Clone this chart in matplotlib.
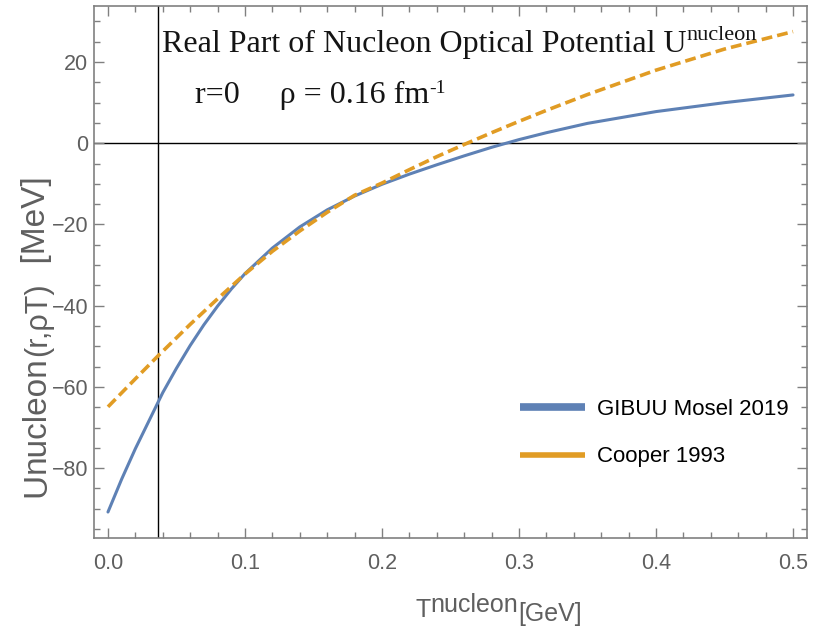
import matplotlib
matplotlib.use("Agg")
import matplotlib.pyplot as plt
from matplotlib.lines import Line2D
from matplotlib.ticker import MultipleLocator
from matplotlib.transforms import IdentityTransform

# values
T_gibuu = [0.0, 0.01, 0.02, 0.03, 0.04, 0.05, 0.06, 0.07, 0.08, 0.09, 0.10,
           0.12, 0.14, 0.16, 0.18, 0.20, 0.22, 0.24, 0.26, 0.28, 0.30, 0.32,
           0.35, 0.40, 0.45, 0.50]
U_gibuu = [-90.8, -82.7, -75.2, -68.3, -61.4, -55.4, -49.8, -44.7, -40.1,
           -35.9, -32.1, -25.8, -20.6, -16.4, -13.0, -10.1, -7.6, -5.3, -3.1,
           -1.0, 0.9, 2.6, 4.9, 7.8, 10.0, 11.9]

T_cooper = [0.0, 0.02, 0.0367, 0.06, 0.08, 0.10, 0.12, 0.14, 0.16, 0.18,
            0.20, 0.22, 0.24, 0.26, 0.28, 0.30, 0.32, 0.35, 0.40, 0.45, 0.50]
U_cooper = [-64.9, -58.0, -52.3, -44.6, -38.3, -32.2, -26.6, -21.6, -17.0,
            -12.8, -9.8, -6.5, -3.3, -0.3, 2.6, 5.4, 8.1, 12.0, 18.0, 23.2, 27.5]

t_fermi = 0.0367
x_ticks = [0.0, 0.1, 0.2, 0.3, 0.4, 0.5]
y_ticks = [-80, -60, -40, -20, 0, 20]
series_labels = ["GIBUU Mosel 2019", "Cooper 1993"]

blue = "#5E81B5"
orange = "#E19C24"
gray = "#5f5f5f"
sans = ["Liberation Sans", "DejaVu Sans"]
serif = ["Liberation Serif", "DejaVu Serif"]

fig = plt.figure(figsize=(8.23, 6.29), dpi=100)
ax = fig.add_axes([94 / 823, 1 - 538 / 629, 713 / 823, 532 / 629])

ax.plot(T_gibuu, U_gibuu, color=blue, lw=2.2, solid_capstyle="round")
ax.plot(T_cooper, U_cooper, color=orange, lw=2.6, dashes=(3.0, 1.4))
ax.axhline(0, color="black", lw=1.0, zorder=1)
ax.axvline(t_fermi, color="black", lw=1.0, zorder=1)

ax.set_xlim(-0.0102, 0.5102)
ax.set_ylim(-97.2, 33.8)
ax.set_xticks(x_ticks)
ax.set_yticks(y_ticks)
ax.set_xticklabels([f"{v:.1f}" for v in x_ticks])
ax.xaxis.set_minor_locator(MultipleLocator(0.02))
ax.yaxis.set_minor_locator(MultipleLocator(5))
ax.tick_params(which="both", direction="in", top=True, right=True,
               color="#808080", width=1.0)
ax.tick_params(which="major", length=7)
ax.tick_params(which="minor", length=4)
ax.tick_params(axis="x", pad=10.5)
ax.tick_params(axis="y", pad=4)
for lab in ax.get_xticklabels() + ax.get_yticklabels():
    lab.set_family(sans)
    lab.set_fontsize(15.5)
    lab.set_color(gray)
for sp in ax.spines.values():
    sp.set_color("#808080")
    sp.set_linewidth(1.2)

handles = [Line2D([], [], color=blue, lw=5.5, solid_capstyle="butt"),
           Line2D([], [], color=orange, lw=4, solid_capstyle="butt")]
ax.legend(handles, series_labels, loc="upper left", bbox_to_anchor=(0.598, 0.262),
          frameon=False, borderpad=0, borderaxespad=0, handlelength=2.9,
          handletextpad=0.55, labelspacing=1.2,
          prop={"family": sans, "size": 16})

renderer = fig.canvas.get_renderer()


def put_pieces(x, y, pieces, rotation=0, **kw):
    # write text pieces one after another, each with its own size and raise
    for text, size, rise in pieces:
        if rotation == 0:
            t = fig.text(x, y + rise, text, fontsize=size, ha="left", va="baseline",
                         transform=IdentityTransform(), **kw)
            x += t.get_window_extent(renderer).width
        else:
            t = fig.text(x - rise, y, text, fontsize=size, ha="left", va="baseline",
                         rotation=90, rotation_mode="anchor",
                         transform=IdentityTransform(), **kw)
            y += t.get_window_extent(renderer).height


H = 629
# title lines
put_pieces(162, H - 52, [("Real Part of Nucleon Optical Potential U", 23, 0),
                         ("nucleon", 16, 12)], family=serif, color="#141414")
put_pieces(195, H - 103, [("r=0     \u03c1 = 0.16 fm", 23, 0),
                          ("-1", 14, 10)], family=serif, color="#141414")

# axis labels
put_pieces(415, H - 617, [("T", 18, 0), ("nucleon", 18, 5), ("[GeV]", 18, -4)],
           family=sans, color=gray)
put_pieces(45, H - 497, [("U", 24, 0), ("nucleon", 24, 0), ("(r,\u03c1T)", 22, -1),
                         ("  [MeV]", 24, 0)], rotation=90, family=sans, color=gray)

fig.savefig("out.png", dpi=100)
